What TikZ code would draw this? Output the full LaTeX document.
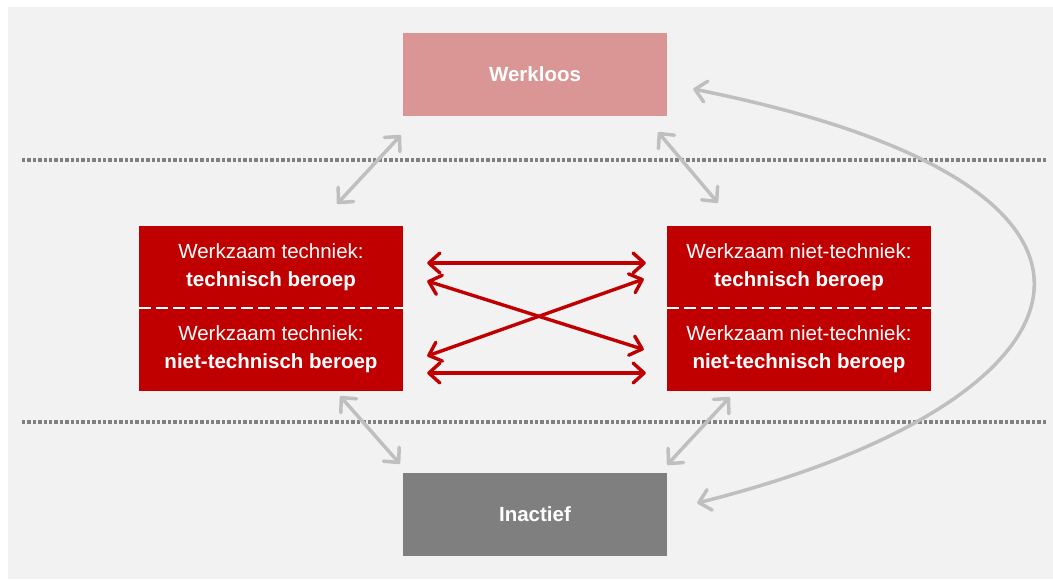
\documentclass[tikz,border=0pt]{standalone}
\usepackage{fontspec}
\setmainfont{Liberation Sans}
\usetikzlibrary{arrows.meta}
\definecolor{bgc}{HTML}{F2F2F2}
\definecolor{werkc}{HTML}{D99694}
\definecolor{redc}{HTML}{C00000}
\definecolor{inacc}{HTML}{7F7F7F}
\definecolor{arrc}{HTML}{BFBFBF}
\definecolor{dotc}{HTML}{808080}
\tikzset{
  box/.style={minimum width=264pt, minimum height=83pt, inner sep=0pt, text=white, align=center, font=\fontsize{20.5}{28}\selectfont},
  grayarrow/.style={draw=arrc, line width=3.5pt, {Straight Barb[length=11pt,width=21pt,line cap=round,line join=round]}-{Straight Barb[length=11pt,width=21pt,line cap=round,line join=round]}},
  redarrow/.style={draw=redc, line width=3.4pt, {Straight Barb[length=11pt,width=20pt,line cap=round,line join=round]}-{Straight Barb[length=11pt,width=20pt,line cap=round,line join=round]}},
  dotline/.style={draw=dotc, line width=3.5pt, dash pattern=on 3.3pt off 2.1pt},
  whitedash/.style={draw=white, line width=2.5pt, dash pattern=on 12pt off 5pt}
}
\begin{document}
\begin{tikzpicture}[x=1pt,y=-1pt]
\useasboundingbox (0,0) rectangle (1053,579);
\fill[bgc] (8,7) rectangle (1053,579);
% dotted separators
\draw[dotline] (22,160) -- (1047,160);
\draw[dotline] (22,422) -- (1047,422);
% nodes
\node[box, fill=werkc] (werk) at (535,74.5) {\textbf{Werkloos}};
\node[box, fill=inacc] (inac) at (535,514.5) {\textbf{Inactief}};
\node[box, fill=redc, minimum height=82pt] (ltop) at (271,267) {Werkzaam techniek:\\\textbf{technisch beroep}};
\node[box, fill=redc] (lbot) at (271,349.5) {Werkzaam techniek:\\\textbf{niet-technisch beroep}};
\node[box, fill=redc, minimum height=82pt] (rtop) at (799,267) {Werkzaam niet-techniek:\\\textbf{technisch beroep}};
\node[box, fill=redc] (rbot) at (799,349.5) {Werkzaam niet-techniek:\\\textbf{niet-technisch beroep}};
% white dashed dividers
\draw[whitedash] (ltop.south west) -- (ltop.south east);
\draw[whitedash] (rtop.south west) -- (rtop.south east);
% gray arrows
\draw[grayarrow] ([shift={(-66,-22)}]ltop.north east) -- ([shift={(-2,19)}]werk.south west);
\draw[grayarrow] ([shift={(51,-23)}]rtop.north west) -- ([shift={(-9,16)}]werk.south east);
\draw[grayarrow] ([shift={(-63,5)}]lbot.south east) -- ([shift={(-3,-9)}]inac.north west);
\draw[grayarrow] ([shift={(63,6)}]rbot.south west) -- ([shift={(0,-8)}]inac.north east);
\draw[grayarrow] ([shift={(26,14.5)}]werk.east) .. controls (1193,189) and (1097,403) .. ([shift={(30,-11.5)}]inac.east);
% red arrows
\draw[redarrow] ([shift={(24,-4)}]ltop.east) -- ([shift={(-21,-4)}]rtop.west);
\draw[redarrow] ([shift={(24,14)}]ltop.east) -- ([shift={(-23,0)}]rbot.west);
\draw[redarrow] ([shift={(24,6.5)}]lbot.east) -- ([shift={(-23,12)}]rtop.west);
\draw[redarrow] ([shift={(24,23.5)}]lbot.east) -- ([shift={(-21,23.5)}]rbot.west);
\end{tikzpicture}
\end{document}
